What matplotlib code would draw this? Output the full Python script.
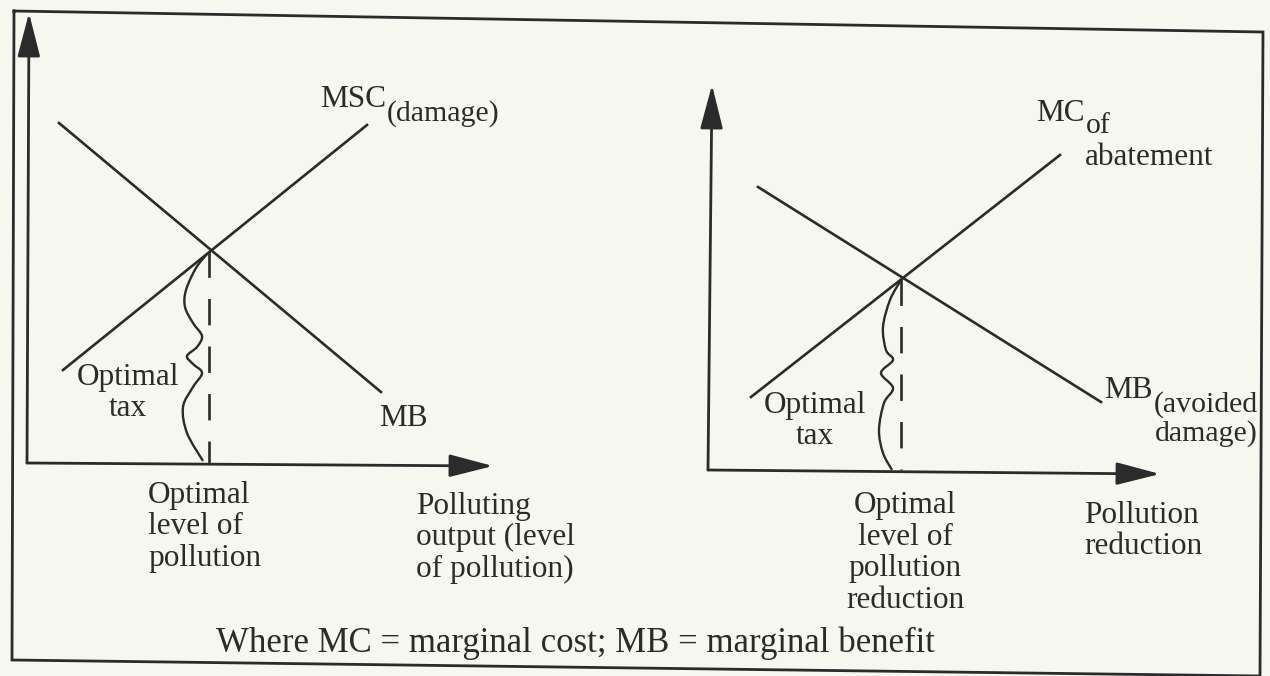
import numpy as np
import matplotlib.pyplot as plt
from matplotlib.path import Path
from matplotlib.patches import PathPatch

# Everything is in picture pixels (x right, y down)

# outer frame of the scanned figure (slightly skewed)
frame_x = [14, 1263, 1260, 12, 14]
frame_y = [11, 32, 676, 660, 11]

# left panel: level of pollution
left_origin = (27, 463)
left_y_tip = (29, 13)
left_x_tip = (493, 466)
left_mb = ([59, 381], [123, 392])
left_msc = ([63, 367], [370, 125])
left_opt_x = 209
left_opt_y = 251
left_brace_x = [207, 196, 186, 185, 193, 202, 197, 187, 193, 202, 193, 183, 187, 203]
left_brace_y = [254, 268, 290, 307, 323, 336, 347, 356, 364, 373, 387, 407, 433, 461]

# right panel: pollution reduction
right_origin = (708, 470)
right_y_tip = (712, 85)
right_x_tip = (1160, 474)
right_mb = ([758, 1101], [187, 402])
right_mc = ([751, 1060], [397, 155])
right_opt_x = 901
right_opt_y = 279
right_brace_x = [901, 890, 883, 886, 893, 881, 893, 884, 879, 883, 892]
right_brace_y = [280, 300, 327, 350, 360, 373, 388, 403, 430, 453, 470]

ink = '#2b2b2b'
paper = '#f6f7ee'
font = 'Liberation Serif'
fs = 22.5
fs_sub = 21.5
ls_txt = 1.12

fig = plt.figure(figsize=(12.7, 6.76), dpi=100)
fig.patch.set_facecolor(paper)
ax = fig.add_axes([0, 0, 1, 1])
ax.set_xlim(0, 1270)
ax.set_ylim(676, 0)
ax.axis('off')


def smooth_path(xs, ys):
    # Catmull-Rom through the points, written as cubic Bezier pieces
    pts = np.column_stack([xs, ys]).astype(float)
    verts = [pts[0]]
    codes = [Path.MOVETO]
    for i in range(len(pts) - 1):
        p0 = pts[max(i - 1, 0)]
        p1 = pts[i]
        p2 = pts[i + 1]
        p3 = pts[min(i + 2, len(pts) - 1)]
        verts += [p1 + (p2 - p0) / 6, p2 - (p3 - p1) / 6, p2]
        codes += [Path.CURVE4] * 3
    return Path(verts, codes)


def axis_arrow(start, tip):
    ax.annotate('', xy=tip, xytext=start,
                arrowprops=dict(arrowstyle='-|>,head_length=1.35,head_width=0.35',
                                mutation_scale=20, lw=2.0, color=ink,
                                shrinkA=0, shrinkB=0))


def label_with_sub(x, y, main, sub, drop):
    # main label, then a lowered subscript right after it
    t = ax.text(x, y, main, fontsize=fs, family=font, color=ink, va='baseline')
    fig.canvas.draw()
    bb = t.get_window_extent()
    x_end = ax.transData.inverted().transform((bb.x1, bb.y0))[0]
    return ax.text(x_end + 1, y + drop, sub, fontsize=fs_sub, family=font,
                   color=ink, va='baseline')


# frame
ax.plot(frame_x, frame_y, color=ink, lw=2.0, solid_joinstyle='miter')

# left panel
axis_arrow(left_origin, left_y_tip)
axis_arrow(left_origin, left_x_tip)
ax.plot(*left_mb, color=ink, lw=1.9)
ax.plot(*left_msc, color=ink, lw=1.9)
ax.plot([left_opt_x, left_opt_x], [left_opt_y, left_origin[1]], color=ink, lw=1.9,
        ls=(0, (10, 8)))
ax.add_patch(PathPatch(smooth_path(left_brace_x, left_brace_y), fill=False,
                       edgecolor=ink, lw=1.7))

label_with_sub(320, 107, 'MSC', '(damage)', 14)
ax.text(128, 393, 'Optimal\ntax', fontsize=fs, family=font, color=ink,
        ha='center', va='center', linespacing=ls_txt)
ax.text(379, 418, 'MB', fontsize=fs, family=font, color=ink, va='center')
ax.text(148, 527, 'Optimal\nlevel of\npollution', fontsize=fs, family=font,
        color=ink, ha='left', va='center', linespacing=ls_txt)
ax.text(416, 538, 'Polluting\noutput (level\nof pollution)', fontsize=fs,
        family=font, color=ink, ha='left', va='center', linespacing=ls_txt)

# right panel
axis_arrow(right_origin, right_y_tip)
axis_arrow(right_origin, right_x_tip)
ax.plot(*right_mb, color=ink, lw=1.9)
ax.plot(*right_mc, color=ink, lw=1.9)
ax.plot([right_opt_x, right_opt_x], [right_opt_y, right_origin[1]], color=ink, lw=1.9,
        ls=(0, (10, 8)))
ax.add_patch(PathPatch(smooth_path(right_brace_x, right_brace_y), fill=False,
                       edgecolor=ink, lw=1.7))

label_with_sub(1036, 121, 'MC', 'of', 12)
ax.text(1085, 165, 'abatement', fontsize=fs, family=font, color=ink, va='baseline')
sub = label_with_sub(1104, 398, 'MB', '(avoided', 14)
fig.canvas.draw()
sb = sub.get_window_extent()
x_right = ax.transData.inverted().transform((sb.x1, sb.y0))[0]
ax.text(x_right, 441, 'damage)', fontsize=fs_sub, family=font, color=ink,
        ha='right', va='baseline')
ax.text(815, 421, 'Optimal\ntax', fontsize=fs, family=font, color=ink,
        ha='center', va='center', linespacing=ls_txt)
ax.text(905, 553, 'Optimal\nlevel of\npollution\nreduction', fontsize=fs,
        family=font, color=ink, ha='center', va='center', linespacing=ls_txt)
ax.text(1084, 531, 'Pollution\nreduction', fontsize=fs, family=font, color=ink,
        ha='left', va='center', linespacing=ls_txt)

# footnote
ax.text(576, 643, 'Where MC = marginal cost; MB = marginal benefit', fontsize=25,
        family=font, color=ink, ha='center', va='center')

fig.savefig('out.png', dpi=100, facecolor=paper)
